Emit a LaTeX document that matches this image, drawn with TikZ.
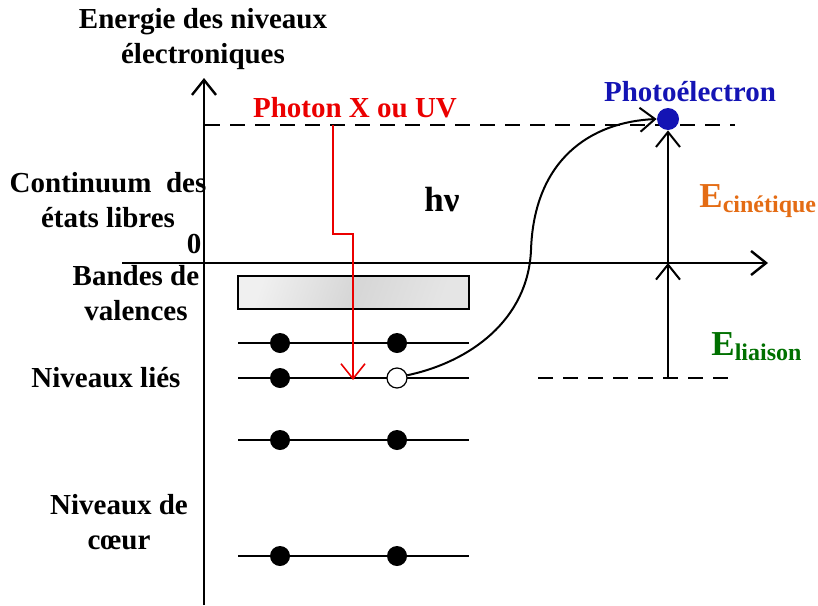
\documentclass[tikz,border=0pt]{standalone}
\usepackage{fontspec}
\setmainfont{Liberation Serif}
\usetikzlibrary{arrows.meta, positioning, calc}

\definecolor{photred}{RGB}{235,0,0}
\definecolor{pblue}{RGB}{20,20,180}
\definecolor{ekin}{RGB}{228,108,20}
\definecolor{ebind}{RGB}{0,112,0}

\begin{document}
\begin{tikzpicture}[
    x=0.5pt, y=-0.5pt,
    % --- text styles ---
    lbl/.style={font=\fontsize{14.5}{17.5}\selectfont\bfseries,
        align=center, inner sep=0pt},
    big/.style={font=\fontsize{17.5}{20}\selectfont\bfseries, inner sep=0pt},
    % --- level / particle styles ---
    lvl/.style={line width=1.1pt},
    elec/.style={circle, fill=black, minimum size=10pt, inner sep=0pt},
    hole/.style={circle, draw=black, fill=white, line width=0.6pt,
        minimum size=10pt, inner sep=0pt},
    pdot/.style={circle, fill=pblue, minimum size=11pt, inner sep=0pt},
    band/.style={rectangle, draw=black, line width=1pt,
        left color=black!6, right color=black!10, middle color=black!16,
        shading angle=70,
        minimum width=115.5pt, minimum height=16.5pt, inner sep=0pt},
    % --- arrow / line styles ---
    tip/.style={-{Straight Barb[length=7.5pt,width=12pt]}},
    axis/.style={tip, line width=1.2pt},
    arr/.style={tip, line width=1pt},
    dashline/.style={line width=1pt, dash pattern=on 7.5pt off 5pt}
]
\useasboundingbox (0,0) rectangle (818,605);

%%% ================= AXES =================
\coordinate (ybot) at (204,605);
\coordinate (ytop) at (204,78);
\coordinate (xleft) at (122,263);
\coordinate (xright) at (768,263);
\draw [axis] (ybot) -- (ytop);
\draw [axis] (xleft) -- (xright);

\node (yname) [lbl] at (203,39) {Energie des niveaux\\électroniques};
\node (zero) [lbl] at (194,244) {0};

%%% ================= DASHED REFERENCE LEVELS =================
\coordinate (vac1) at (205,125);
\coordinate (vac2) at (735,125);
\coordinate (bnd1) at (538,378);
\coordinate (bnd2) at (735,378);
\draw [dashline] (vac1) -- (vac2);
\draw [dashline] (bnd1) -- (bnd2);

%%% ================= LEFT LABELS =================
\node (cont)  [lbl] at (108,200) {Continuum\ \ des\\états libres};
\node (val)   [lbl] at (136,293) {Bandes de\\valences};
\node (lies)  [lbl] at (106,378) {Niveaux liés};
\node (coeur) [lbl] at (119,522) {Niveaux de\\cœur};

%%% ================= BANDS AND LEVELS =================
\node (vb) [band] at (353.5,292.5) {};

\foreach \y/\n in {343/a, 440/c, 556/d} {
    \draw [lvl] (238,\y) -- (469,\y);
    \node (e\n1) [elec] at (280,\y) {};
    \node (e\n2) [elec] at (397,\y) {};
}
\draw [lvl] (238,378) -- (469,378);
\node (eb1) [elec] at (280,378) {};
\node (hole) [hole] at (397,378) {};

%%% ================= PHOTON =================
\node (photon) [lbl, text=photred] at (355,108) {Photon X ou UV};
\node (hnu) [big] at (442,200) {hν};
\coordinate (ph0) at (333,125);
\coordinate (ph1) at (353,380);
\draw [arr, photred, line width=0.8pt] (ph0) -- (333,234) -- (353,234) -- (ph1);

%%% ================= PHOTOELECTRON =================
\node (pe) [pdot] at (668,119) {};
\node (pelbl) [lbl, text=pblue] at (690,92) {Photoélectron};
\draw [arr] (hole.15) .. controls (470,362) and (528,320) .. (531,250)
    .. controls (534,160) and (590,122) .. (pe.west);

%%% ================= ENERGIES =================
\coordinate (kin0) at (668,263);
\coordinate (bind0) at (668,378);
\draw [arr] (kin0) -- (pe.south);
\draw [arr] (bind0) -- (kin0);

\node (ekinlbl) [big, text=ekin, anchor=base west] at (699,207)
    {E\raisebox{-2.5pt}{\fontsize{12}{14}\selectfont cinétique}};
\node (ebindlbl) [big, text=ebind, anchor=base west] at (711,355)
    {E\raisebox{-2.5pt}{\fontsize{12}{14}\selectfont liaison}};

\end{tikzpicture}
\end{document}
